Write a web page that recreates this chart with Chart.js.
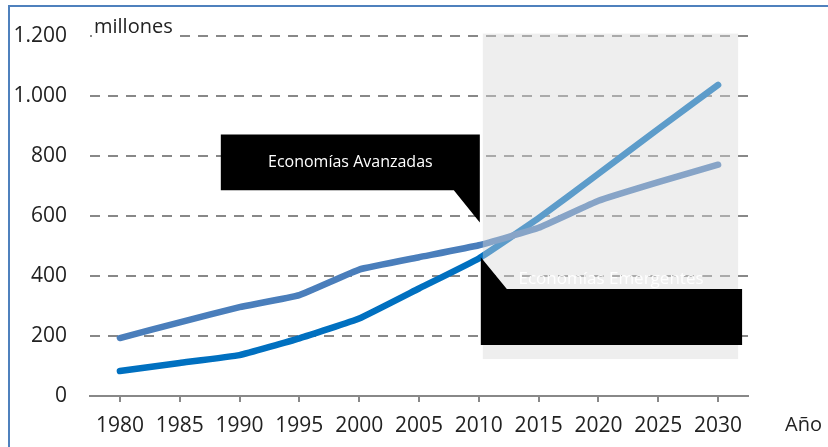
<!DOCTYPE html>
<html>
<head>
<meta charset="utf-8">
<script src="https://cdn.jsdelivr.net/npm/chart.js@4.4.1/dist/chart.umd.min.js"></script>
<style>
  html, body { margin: 0; padding: 0; background: #fff; }
  #wrap { position: relative; width: 828px; height: 447px; }
  #frame { position: absolute; left: 8px; top: 5px; right: 0; bottom: 0;
           border-top: 2px solid #4f81bd; border-left: 2px solid #4f81bd; pointer-events: none; }
</style>
</head>
<body>
<div id="wrap">
  <canvas id="graph" width="828" height="447"></canvas>
  <div id="frame"></div>
</div>
<script>
const ctx = document.getElementById('graph').getContext('2d');

// Data (millones)
const years = ['1980', '1985', '1990', '1995', '2000', '2005', '2010', '2015', '2020', '2025', '2030'];
const avanzadas = [193, 245, 296, 336, 421, 462, 502, 560, 650, 712, 770];
const emergentes = [83, 110, 136, 192, 258, 358, 458, 592, 740, 889, 1036];
const yTicks = [0, 200, 400, 600, 800, 1000, 1200];
const calloutTexts = ['Economías Avanzadas', 'Economías Emergentes'];
const yUnit = 'millones';
const xUnit = 'Año';

const fontFam = '"Open Sans", "Noto Sans", sans-serif';

// shaded projection area, callouts and axis titles
const extras = {
    id: 'extras',
    afterDatasetsDraw(chart) {
        const c = chart.ctx;
        const xs = chart.scales.x;
        const ys = chart.scales.y;
        const x2010 = xs.getPixelForValue(6);
        const x2030 = xs.getPixelForValue(10);

        // projection band (semi-transparent, lightens grid + lines)
        c.save();
        c.fillStyle = 'rgba(215,215,215,0.43)';
        const bTop = ys.getPixelForValue(1200) - 2;
        const bBot = ys.getPixelForValue(123);
        c.fillRect(x2010 + 4, bTop, x2030 + 20 - (x2010 + 4), bBot - bTop);

        // "millones" label with white background over the top gridline
        c.font = '20px ' + fontFam;
        c.textBaseline = 'middle';
        c.textAlign = 'left';
        const mx = chart.chartArea.left + 2;
        const my = ys.getPixelForValue(1200) - 8;
        const mw = c.measureText(yUnit).width;
        c.fillStyle = '#fff';
        c.fillRect(mx, my - 14, mw + 8, 24);
        c.fillStyle = '#222';
        c.fillText(yUnit, mx + 2, my);

        // callout: avanzadas
        c.fillStyle = '#000';
        let top = ys.getPixelForValue(871), bot = ys.getPixelForValue(685);
        let right = x2010 + 1, left = right - 259;
        c.beginPath();
        c.moveTo(left, top);
        c.lineTo(right, top);
        c.lineTo(right, ys.getPixelForValue(578));
        c.lineTo(right - 26, bot);
        c.lineTo(left, bot);
        c.closePath();
        c.fill();
        c.fillStyle = '#fff';
        c.font = '16px ' + fontFam;
        c.textAlign = 'center';
        c.fillText(calloutTexts[0], (left + right) / 2, (top + bot) / 2);

        // callout: emergentes
        c.fillStyle = '#000';
        top = ys.getPixelForValue(356); bot = ys.getPixelForValue(170);
        left = x2010 + 2; right = x2030 + 24;
        c.beginPath();
        c.moveTo(left, ys.getPixelForValue(462));
        c.lineTo(left + 26, top);
        c.lineTo(right, top);
        c.lineTo(right, bot);
        c.lineTo(left, bot);
        c.closePath();
        c.fill();
        c.fillStyle = 'rgba(255,255,255,0.95)';
        c.font = '17px ' + fontFam;
        c.fillText(calloutTexts[1], 611, ys.getPixelForValue(389));

        // x unit
        c.fillStyle = '#222';
        c.font = '20px ' + fontFam;
        c.textAlign = 'left';
        c.fillText(xUnit, 785, xs.bottom - 22);
        c.restore();
    }
};

const chart = new Chart(ctx, {
    type: 'line',
    data: {
        labels: years,
        datasets: [
            {
                label: calloutTexts[0],
                data: avanzadas,
                borderColor: '#4a7ebb',
                borderWidth: 6.5,
                borderCapStyle: 'round',
                borderJoinStyle: 'round',
                pointRadius: 0,
                tension: 0.1,
                fill: false,
            },
            {
                label: calloutTexts[1],
                data: emergentes,
                borderColor: '#0070c0',
                borderWidth: 6.5,
                borderCapStyle: 'round',
                borderJoinStyle: 'round',
                pointRadius: 0,
                tension: 0.1,
                fill: false,
            },
        ],
    },
    options: {
        responsive: false,
        animation: false,
        layout: { padding: { left: 0, right: 80, top: 35, bottom: 0 } },
        plugins: { legend: { display: false }, tooltip: { enabled: false } },
        scales: {
            x: {
                offset: true,
                grid: { display: true, drawOnChartArea: false, drawTicks: true, tickLength: 6,
                        offset: false, color: '#888', lineWidth: 2 },
                border: { display: true, color: '#888', width: 2 },
                ticks: { color: '#222', font: { family: fontFam, size: 21 }, padding: 11,
                         maxRotation: 0, autoSkip: false },
                afterFit(scale) { scale.height = 51; },
            },
            y: {
                min: 0,
                max: 1200,
                afterBuildTicks(scale) { scale.ticks = yTicks.map(v => ({ value: v })); },
                grid: { color: '#888', lineWidth: 2, drawTicks: false },
                border: { display: false, dash: [10, 8] },
                ticks: {
                    color: '#222',
                    font: { family: fontFam, size: 21 },
                    padding: 23,
                    callback: v => v.toLocaleString('de-DE'),
                },
                afterFit(scale) { scale.width = 90; },
            },
        },
    },
    plugins: [extras],
});
</script>
</body>
</html>
